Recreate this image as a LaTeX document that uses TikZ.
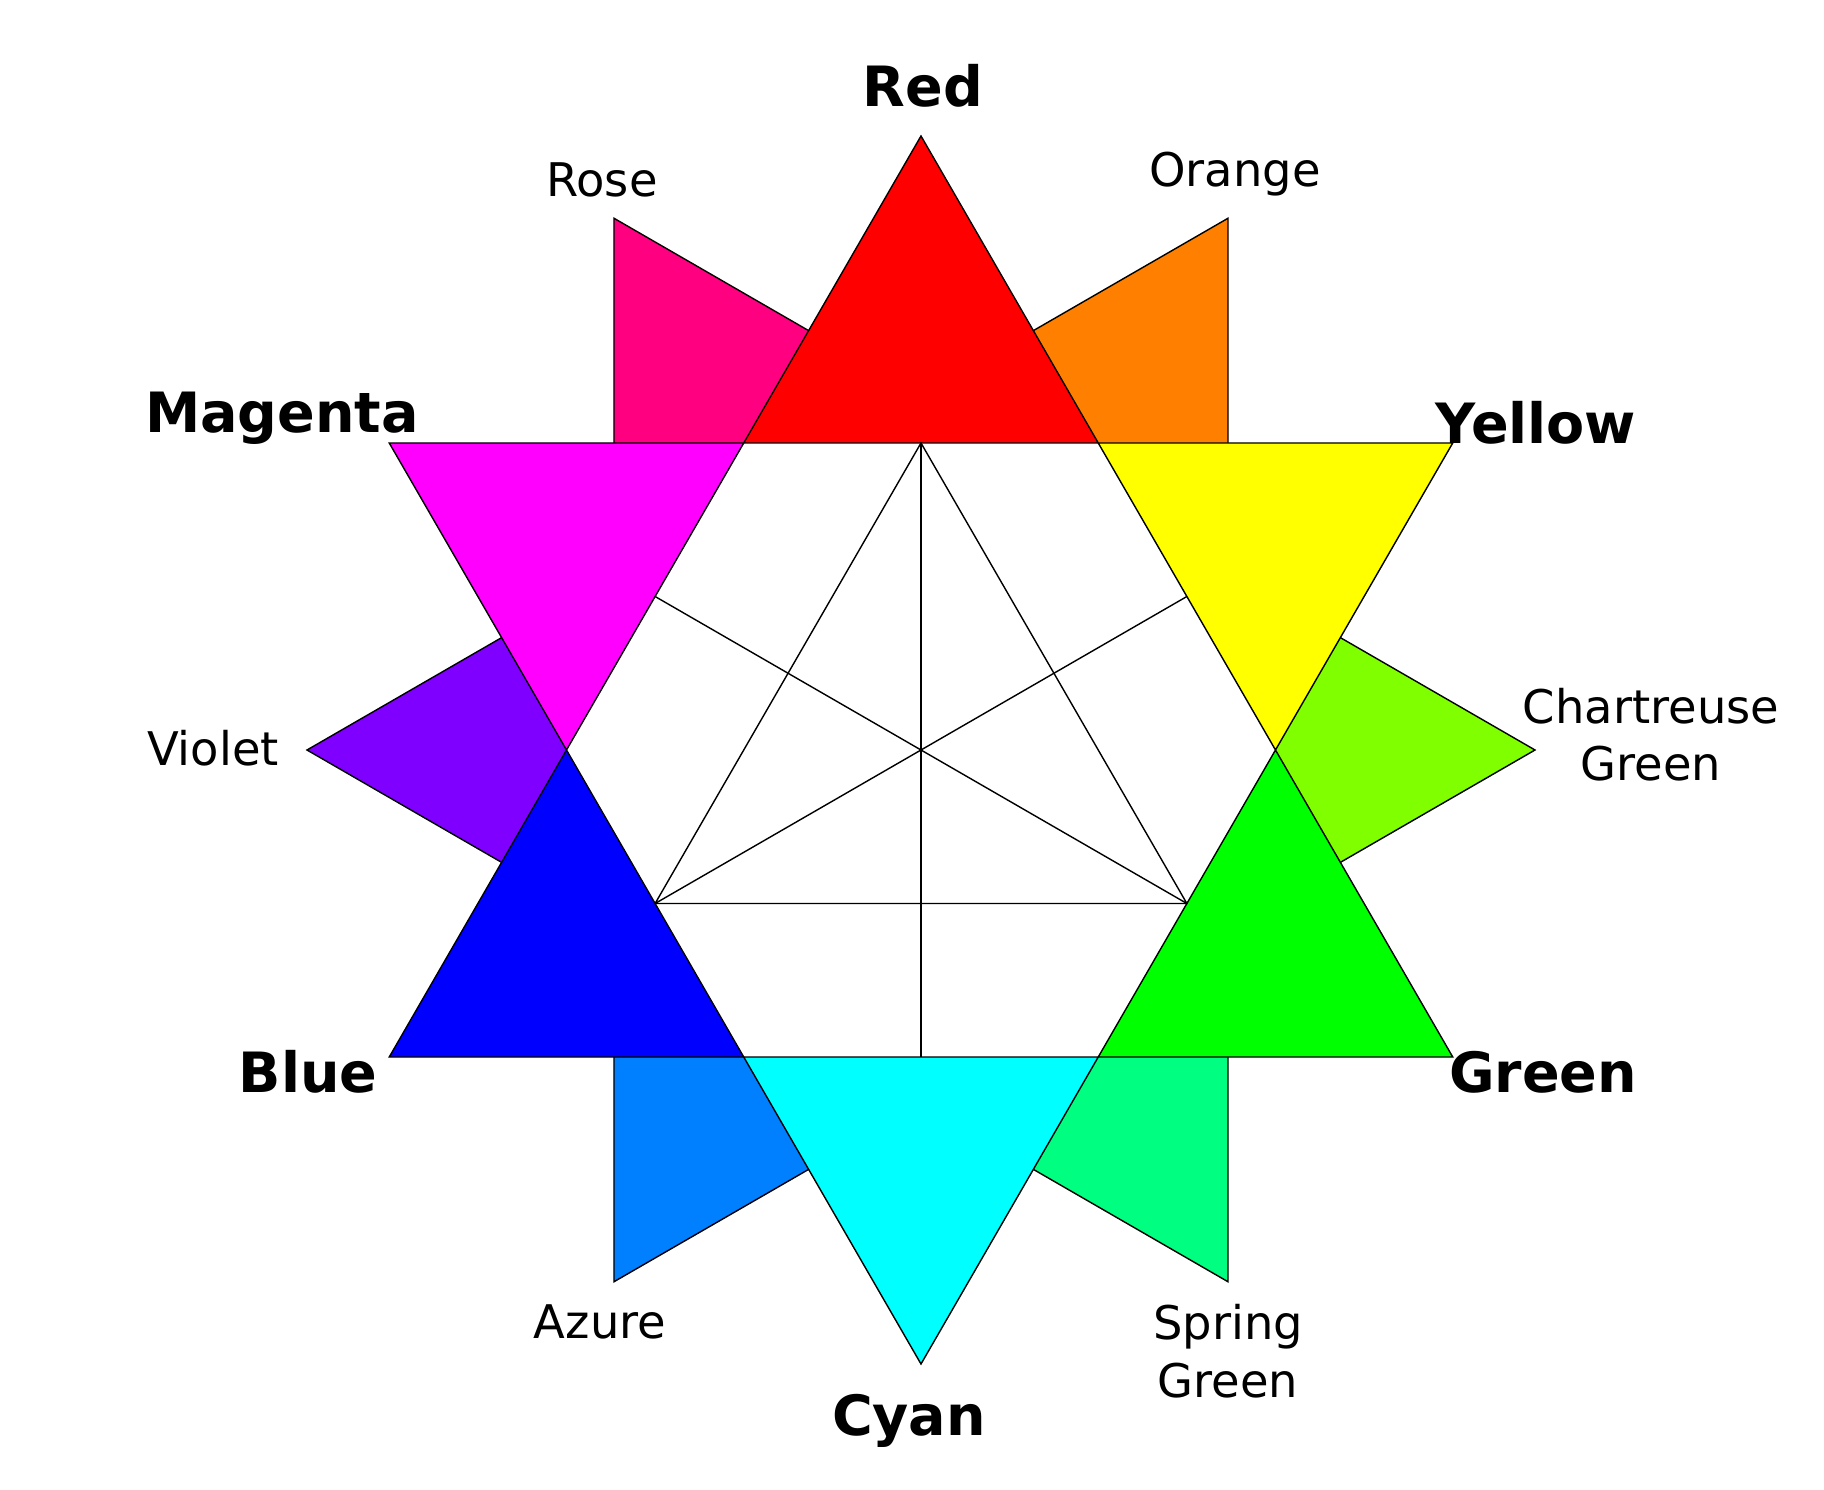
\documentclass[tikz,border=0pt]{standalone}
\usepackage{fontspec}
\setmainfont{DejaVu Sans}

\definecolor{redc}{HTML}{FF0000}
\definecolor{rose}{HTML}{FF0080}
\definecolor{orangec}{HTML}{FF8000}
\definecolor{yellowc}{HTML}{FFFF00}
\definecolor{chartreuse}{HTML}{80FF00}
\definecolor{greenc}{HTML}{00FF00}
\definecolor{springgreen}{HTML}{00FF80}
\definecolor{cyanc}{HTML}{00FFFF}
\definecolor{azure}{HTML}{0080FF}
\definecolor{bluec}{HTML}{0000FF}
\definecolor{violetc}{HTML}{8000FF}
\definecolor{magentac}{HTML}{FF00FF}

\tikzset{
  wedge/.style={draw=black, line width=0.4pt, line join=miter},
  mainlabel/.style={font=\fontsize{15.8}{19}\selectfont\bfseries, anchor=base},
  sidelabel/.style={font=\fontsize{13.2}{16.5}\selectfont, anchor=base, align=center},
}

\begin{document}
\begin{tikzpicture}
                \useasboundingbox (-9.21, -7.39) rectangle (9.03, 7.50);
                % Secondary points (half hidden):
                \draw[wedge, fill=orangec] (60:6.14) -- (30:3.545) -- (90:3.545) -- cycle;
                \draw[wedge, fill=chartreuse] (0:6.14) -- (-30:3.545) -- (30:3.545) -- cycle;
                \draw[wedge, fill=springgreen] (-60:6.14) -- (-90:3.545) -- (-30:3.545) -- cycle;
                \draw[wedge, fill=azure] (-120:6.14) -- (-150:3.545) -- (-90:3.545) -- cycle;
                \draw[wedge, fill=violetc] (180:6.14) -- (150:3.545) -- (210:3.545) -- cycle;
                \draw[wedge, fill=rose] (120:6.14) -- (90:3.545) -- (150:3.545) -- cycle;
                \fill[white] (0:3.545) -- (60:3.545) -- (120:3.545) -- (180:3.545) -- (240:3.545) -- (300:3.545) -- cycle;
                % Primary points:
                \draw[wedge, fill=redc] (60:3.545) -- (90:6.14) -- (120:3.545) -- cycle;
                \draw[wedge, fill=yellowc] (0:3.545) -- (30:6.14) -- (60:3.545) -- cycle;
                \draw[wedge, fill=greenc] (0:3.545) -- (-30:6.14) -- (-60:3.545) -- cycle;
                \draw[wedge, fill=cyanc] (-60:3.545) -- (-90:6.14) -- (-120:3.545) -- cycle;
                \draw[wedge, fill=bluec] (-120:3.545) -- (-150:6.14) -- (180:3.545) -- cycle;
                \draw[wedge, fill=magentac] (180:3.545) -- (150:6.14) -- (120:3.545) -- cycle;
                % Inner triangle and its medians:
                \coordinate (T1) at (90:3.07);
                \coordinate (T2) at (210:3.07);
                \coordinate (T3) at (330:3.07);
                \coordinate (M1) at (270:3.07);
                \coordinate (M2) at (30:3.07);
                \coordinate (M3) at (150:3.07);
                \draw[line width=0.4pt] (T1) -- (T2) -- (T3) -- cycle;
                \draw[line width=0.4pt] (T1) -- (M1);
                \draw[line width=0.4pt] (T2) -- (M2);
                \draw[line width=0.4pt] (T3) -- (M3);
                % Labels:
                \node[mainlabel] (red) at (0.02, 6.43) {Red};
                \node[mainlabel] (yellow) at (6.15, 3.06) {Yellow};
                \node[mainlabel] (green) at (6.22, -3.42) {Green};
                \node[mainlabel] (cyan) at (-0.12, -6.85) {Cyan};
                \node[mainlabel] (blue) at (-6.13, -3.42) {Blue};
                \node[mainlabel] (magenta) at (-6.39, 3.17) {Magenta};
                \node[sidelabel] (orange) at (3.14, 5.63) {Orange};
                \node[sidelabel] (chart) at (7.30, -0.31) {Chartreuse\\Green};
                \node[sidelabel] (spring) at (3.07, -6.47) {Spring\\Green};
                \node[sidelabel] (azure) at (-3.21, -5.88) {Azure};
                \node[sidelabel] (violet) at (-7.08, -0.15) {Violet};
                \node[sidelabel] (rose) at (-3.19, 5.53) {Rose};
            \end{tikzpicture}
\end{document}
